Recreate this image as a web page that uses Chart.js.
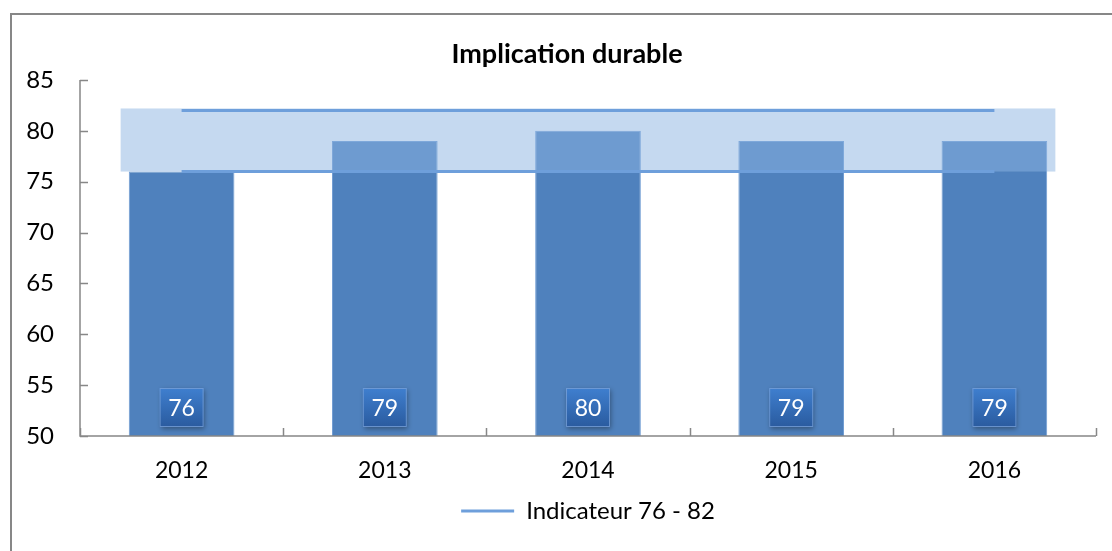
<!DOCTYPE html>
<html>
<head>
<meta charset="utf-8">
<script src="https://cdn.jsdelivr.net/npm/chart.js@4.4.0/dist/chart.umd.min.js"></script>
<style>
  html, body { margin: 0; padding: 0; background: #ffffff; overflow: hidden; }
  #wrap { position: relative; width: 1112px; height: 551px; }
</style>
</head>
<body>
<div id="wrap"><canvas id="chart" width="1112" height="551"></canvas></div>
<script>
// Data
const years = ['2012', '2013', '2014', '2015', '2016'];
const scores = [76, 79, 80, 79, 79];
const indicatorHigh = [82, 82, 82, 82, 82];
const indicatorLow = [76, 76, 76, 76, 76];
const bandRange = [76, 82.2];
const yTicks = [50, 55, 60, 65, 70, 75, 80, 85];
const chartTitle = 'Implication durable';

const FONT = "Lato, 'Open Sans', sans-serif";
const AXIS_GREY = '#878787';

// Frame around the whole chart (runs off the right and bottom edges) and the title
const framePlugin = {
    id: 'frame',
    beforeDraw(chart) {
        const ctx = chart.ctx;
        ctx.save();
        ctx.strokeStyle = AXIS_GREY;
        ctx.lineWidth = 2;
        ctx.strokeRect(11, 14, 1200, 600);
        // title is centred on the full frame, not on the plot
        ctx.fillStyle = '#000000';
        ctx.font = 'bold 27px ' + FONT;
        ctx.textAlign = 'center';
        ctx.textBaseline = 'middle';
        ctx.fillText(chartTitle, 567, 54);
        ctx.restore();
    }
};

// Light band for the target zone, drawn over the bars but under the lines
const bandPlugin = {
    id: 'band',
    afterDatasetDraw(chart, args) {
        if (args.index !== 0) return;
        const x = chart.scales.x;
        const y = chart.scales.y;
        const step = x.getPixelForValue(1) - x.getPixelForValue(0);
        const left = x.getPixelForValue(0) - step * 0.3;
        const right = x.getPixelForValue(years.length - 1) + step * 0.3;
        const top = y.getPixelForValue(bandRange[1]);
        const bottom = y.getPixelForValue(bandRange[0]);
        const ctx = chart.ctx;
        ctx.save();
        ctx.fillStyle = 'rgba(142, 180, 226, 0.51)';
        ctx.fillRect(left, top, right - left, bottom - top);
        ctx.restore();
    }
};

// Axis lines with inward tick marks, then the value boxes
const axesPlugin = {
    id: 'axes',
    afterDatasetsDraw(chart) {
        const ctx = chart.ctx;
        const area = chart.chartArea;
        const x = chart.scales.x;
        const y = chart.scales.y;
        ctx.save();
        ctx.strokeStyle = AXIS_GREY;
        ctx.lineWidth = 1.5;
        ctx.beginPath();
        ctx.moveTo(area.left, area.top);
        ctx.lineTo(area.left, area.bottom);
        ctx.lineTo(area.right, area.bottom);
        yTicks.forEach(v => {
            const py = Math.round(y.getPixelForValue(v)) + 0.5;
            ctx.moveTo(area.left, py);
            ctx.lineTo(area.left + 8, py);
        });
        const step = x.getPixelForValue(1) - x.getPixelForValue(0);
        for (let i = 0; i <= years.length; i++) {
            const px = Math.round(x.getPixelForValue(0) - step / 2 + i * step) + 0.5;
            ctx.moveTo(px, area.bottom);
            ctx.lineTo(px, area.bottom - 8);
        }
        ctx.stroke();

        // value boxes at the foot of each bar
        const w = 44, h = 39;
        scores.forEach((v, i) => {
            const cx = x.getPixelForValue(i);
            const bx = cx - w / 2;
            const by = area.bottom - 9 - h;
            ctx.save();
            ctx.shadowColor = 'rgba(0, 0, 0, 0.35)';
            ctx.shadowBlur = 5;
            ctx.shadowOffsetX = 1;
            ctx.shadowOffsetY = 2;
            const grad = ctx.createLinearGradient(0, by, 0, by + h);
            grad.addColorStop(0, '#3f7fcf');
            grad.addColorStop(1, '#2a5b9f');
            ctx.fillStyle = grad;
            ctx.fillRect(bx, by, w, h);
            ctx.restore();
            ctx.strokeStyle = 'rgba(120, 160, 215, 0.8)';
            ctx.lineWidth = 1;
            ctx.strokeRect(bx + 0.5, by + 0.5, w - 1, h - 1);
            ctx.fillStyle = '#ffffff';
            ctx.font = '23px ' + FONT;
            ctx.textAlign = 'center';
            ctx.textBaseline = 'middle';
            ctx.fillText(String(v), cx, by + h / 2 + 1);
        });
        ctx.restore();
    }
};

const ctx = document.getElementById('chart').getContext('2d');
new Chart(ctx, {
    type: 'bar',
    data: {
        labels: years,
        datasets: [
            {
                label: 'Score',
                data: scores,
                backgroundColor: '#4f81bd',
                borderColor: '#6f9bd2',
                borderWidth: 1,
                barPercentage: 0.52,
                categoryPercentage: 1,
                order: 3
            },
            {
                type: 'line',
                label: 'Indicateur 76 - 82',
                data: indicatorHigh,
                borderColor: '#6e9fdb',
                borderWidth: 3,
                pointRadius: 0,
                fill: false,
                order: 1
            },
            {
                type: 'line',
                label: 'Indicateur bas',
                data: indicatorLow,
                borderColor: '#6e9fdb',
                borderWidth: 3,
                pointRadius: 0,
                fill: false,
                order: 1
            }
        ]
    },
    options: {
        responsive: false,
        animation: false,
        layout: { padding: { left: 22, right: 16, top: 80, bottom: 18 } },
        scales: {
            x: {
                grid: { display: false, drawTicks: false },
                border: { display: false },
                ticks: { color: '#000000', font: { family: FONT, size: 23 }, padding: 21 },
                afterFit(scale) { scale.height = 53; }
            },
            y: {
                min: 50,
                max: 85,
                grid: { display: false, drawTicks: false },
                border: { display: false },
                ticks: {
                    stepSize: 5,
                    color: '#000000',
                    font: { family: FONT, size: 24 },
                    padding: 26
                },
                afterFit(scale) { scale.width = 58; }
            }
        },
        plugins: {
            title: { display: false },
            legend: {
                position: 'bottom',
                fullSize: false,
                labels: {
                    filter: item => item.datasetIndex === 1,
                    usePointStyle: true,
                    pointStyle: 'line',
                    pointStyleWidth: 53,
                    color: '#000000',
                    font: { family: FONT, size: 24 },
                    padding: 10
                }
            },
            tooltip: { enabled: false }
        }
    },
    plugins: [framePlugin, bandPlugin, axesPlugin]
});
</script>
</body>
</html>
